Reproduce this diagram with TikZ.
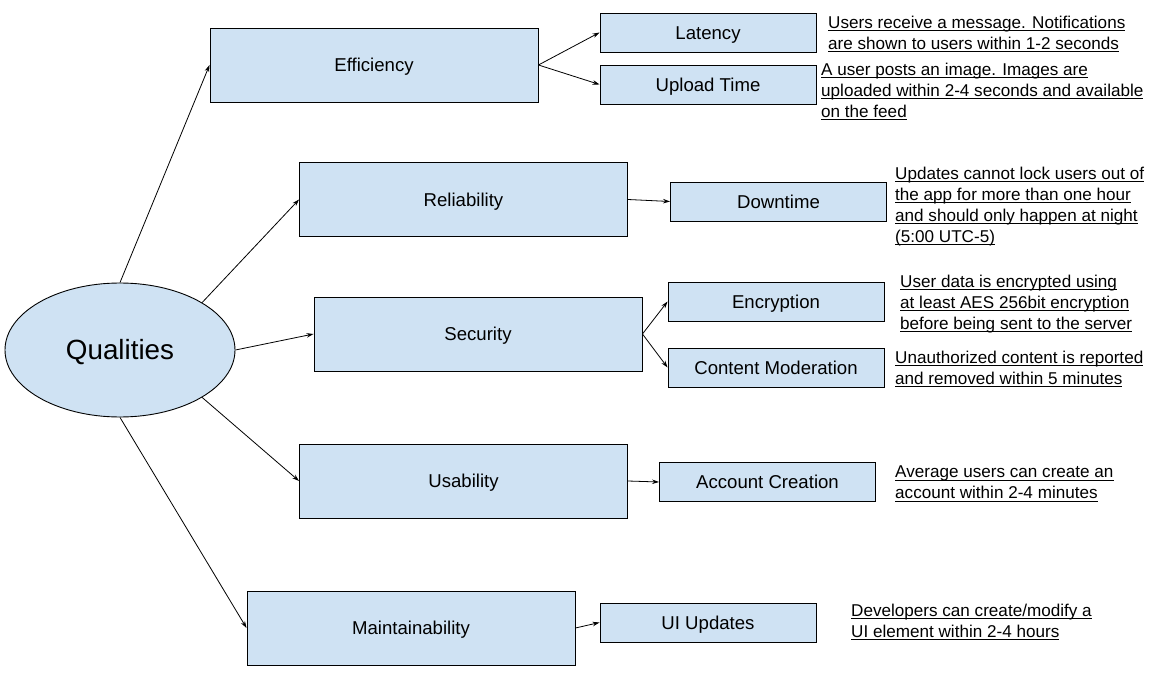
\documentclass[tikz,border=0pt]{standalone}
\usepackage{fontspec}
\setmainfont{Liberation Sans}
\usetikzlibrary{shapes.geometric,arrows.meta}
\definecolor{boxfill}{HTML}{CFE2F3}
% underline at a fixed depth below the baseline
\newsavebox{\undlbox}
\newcommand{\undl}[1]{\sbox{\undlbox}{#1}\rlap{\usebox{\undlbox}}\rule[-2.7pt]{\wd\undlbox}{0.9pt}}
\begin{document}
\begin{tikzpicture}[x=1pt,y=-1pt,
  box/.style={draw=black, fill=boxfill, line width=0.9pt, inner sep=0pt,
    text height=13.3pt, text depth=0pt, font=\fontsize{18.6}{20}\selectfont},
  big/.style={box, minimum width=328pt, minimum height=74pt},
  small/.style={box, minimum width=216pt, minimum height=39pt},
  note/.style={anchor=north west, align=left, inner sep=0pt,
    font=\fontsize{17.1}{21}\selectfont},
  link/.style={-{Stealth[length=7pt,width=4.5pt]}, line width=0.8pt}]
\useasboundingbox (0,0) rectangle (1161,700);

% root
\node[ellipse, draw=black, fill=boxfill, line width=0.9pt, minimum width=230pt,
  minimum height=134pt, inner sep=0pt, text height=19.9pt, text depth=0pt,
  font=\fontsize{27.8}{30}\selectfont]
  (q) at (120,350) {Qualities};

% quality attributes
\node[big] (eff) at (374,65) {Efficiency};
\node[big] (rel) at (463.5,199.5) {Reliability};
\node[big] (sec) at (478,334) {Security};
\node[big] (usa) at (463.5,481) {Usability};
\node[big] (mai) at (411,628) {Maintainability};

% scenarios
\node[small] (lat) at (708,32.5) {Latency};
\node[small] (upl) at (708,84.5) {Upload Time};
\node[small] (dwn) at (778.5,201.5) {Downtime};
\node[small] (enc) at (776,301.5) {Encryption};
\node[small] (mod) at (776,367.5) {Content Moderation};
\node[small] (acc) at (767.5,482) {Account Creation};
\node[small] (uiu) at (708,622.5) {UI Updates};

% scenario descriptions
\node[note] (nlat) at (828,16) {\undl{Users receive a message. Notifications}\\
  \undl{are shown to users within 1-2 seconds}};
\node[note] (nupl) at (821,63) {\undl{A user posts an image. Images are}\\
  \undl{uploaded within 2-4 seconds and available}\\\undl{on the feed}};
\node[note] (ndwn) at (895,167) {\undl{Updates cannot lock users out of}\\
  \undl{the app for more than one hour}\\
  \undl{and should only happen at night}\\\undl{(5:00 UTC-5)}};
\node[note] (nenc) at (900,275) {\undl{User data is encrypted using}\\
  \undl{at least AES 256bit encryption}\\\undl{before being sent to the server}};
\node[note] (nmod) at (895,351) {\undl{Unauthorized content is reported}\\
  \undl{and removed within 5 minutes}};
\node[note] (nacc) at (895,466) {\undl{Average users can create an}\\
  \undl{account within 2-4 minutes}};
\node[note] (nuiu) at (851,604) {\undl{Developers can create/modify a}\\
  \undl{UI element within 2-4 hours}};

% connectors
\draw[link] (q.north) -- (eff.west);
\draw[link] (q.30) -- (rel.west);
\draw[link] (q.0) -- (sec.west);
\draw[link] (q.-30) -- (usa.west);
\draw[link] (q.south) -- (mai.west);
\draw[link] (eff.east) -- (lat.west);
\draw[link] (eff.east) -- (upl.west);
\draw[link] (rel.east) -- (dwn.west);
\draw[link] (sec.east) -- (enc.west);
\draw[link] (sec.east) -- (mod.west);
\draw[link] (usa.east) -- (acc.west);
\draw[link] (mai.east) -- (uiu.west);
\end{tikzpicture}
\end{document}
